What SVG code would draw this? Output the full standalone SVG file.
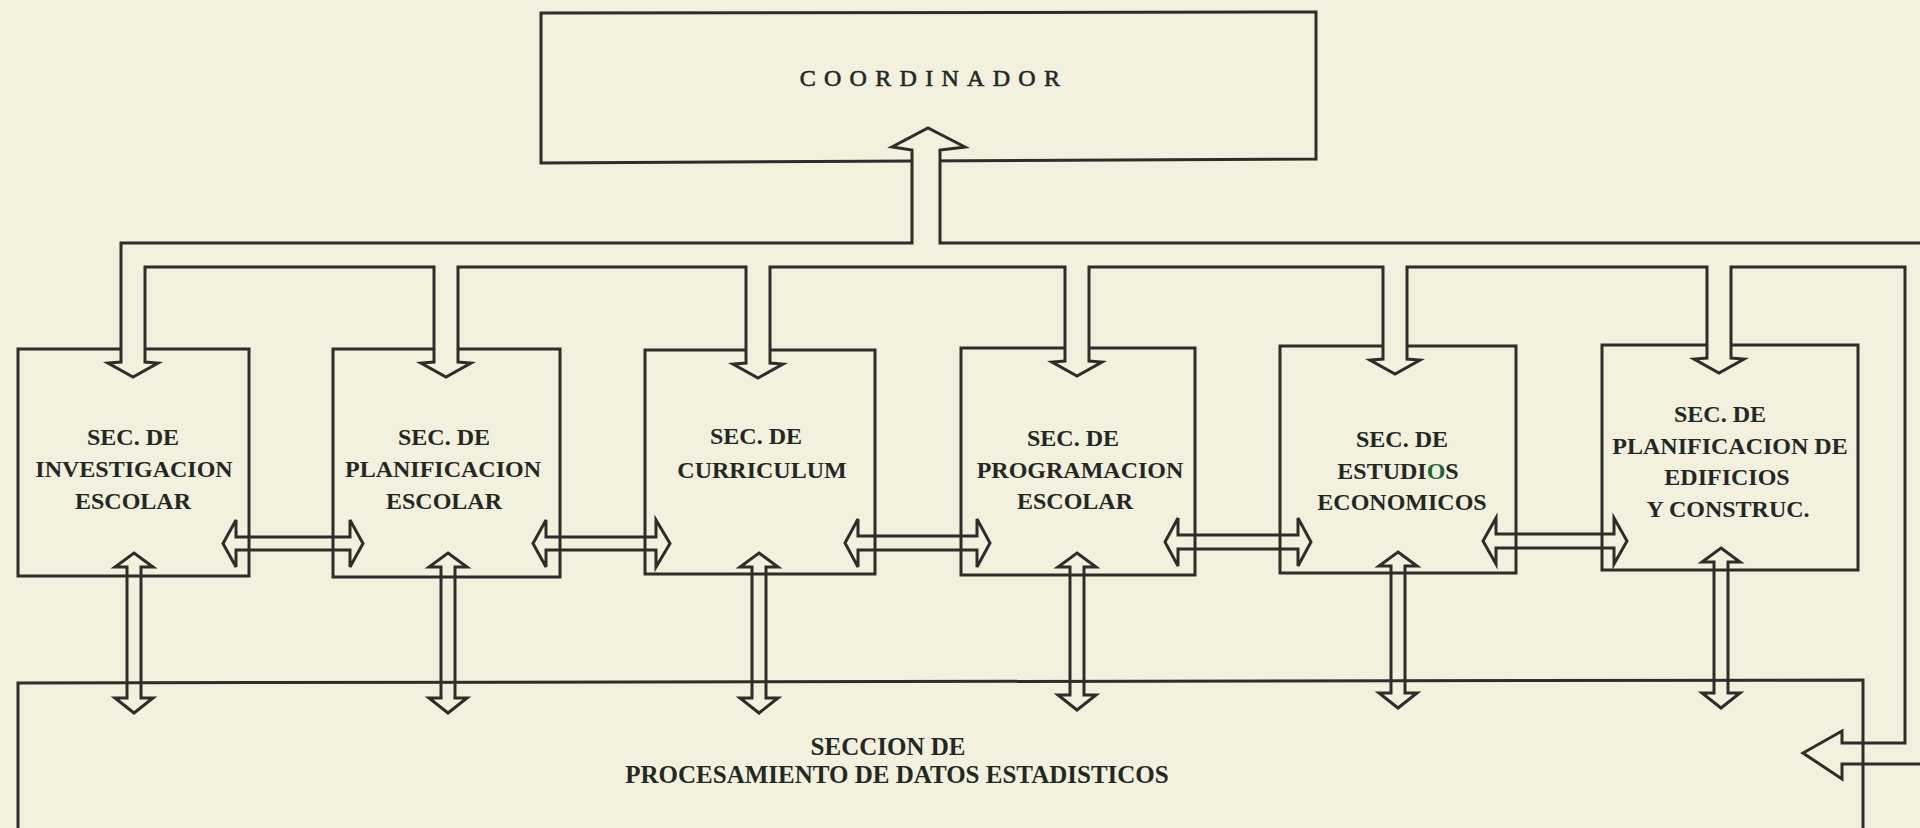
<svg xmlns="http://www.w3.org/2000/svg" width="1920" height="828" viewBox="0 0 1920 828">
<style>
.bg{fill:#f3f1de}
.box{fill:none;stroke:#2d2d2a;stroke-width:3;stroke-linejoin:miter}
.pipe{fill:#f3f1de;stroke:#2d2d2a;stroke-width:3;stroke-linejoin:miter}
.dbl{fill:none;stroke:#2d2d2a;stroke-width:3;stroke-linejoin:miter}
.lbl{font-family:"Liberation Serif","Times New Roman",serif;font-weight:bold;font-size:24px;fill:#232825;text-anchor:middle}
.big{font-size:25px}
.coord{font-family:"Liberation Serif","Times New Roman",serif;font-size:24px;fill:#232825;stroke:#232825;stroke-width:0.6;letter-spacing:8.3px;text-anchor:middle}
</style>
<rect class="bg" x="0" y="0" width="1920" height="828"/>

<g id="coordinador">
  <path class="box" d="M541 13 L1316 12 L1316 159 L541 163 Z"/>
  <text class="coord" x="934" y="86">COORDINADOR</text>
</g>

<g id="sec-investigacion-escolar">
  <rect class="box" x="18" y="349" width="231" height="227"/>
  <text class="lbl" x="133" y="445">SEC. DE</text>
  <text class="lbl" x="134" y="477">INVESTIGACION</text>
  <text class="lbl" x="133" y="509">ESCOLAR</text>
</g>

<g id="sec-planificacion-escolar">
  <rect class="box" x="333" y="349" width="227" height="228"/>
  <text class="lbl" x="444" y="445">SEC. DE</text>
  <text class="lbl" x="443" y="477">PLANIFICACION</text>
  <text class="lbl" x="444" y="509">ESCOLAR</text>
</g>

<g id="sec-curriculum">
  <rect class="box" x="645" y="350" width="230" height="224"/>
  <text class="lbl" x="756" y="444">SEC. DE</text>
  <text class="lbl" x="762" y="478">CURRICULUM</text>
</g>

<g id="sec-programacion-escolar">
  <rect class="box" x="961" y="348" width="234" height="227"/>
  <text class="lbl" x="1073" y="446">SEC. DE</text>
  <text class="lbl" x="1080" y="478">PROGRAMACION</text>
  <text class="lbl" x="1075" y="509">ESCOLAR</text>
</g>

<g id="sec-estudios-economicos">
  <rect class="box" x="1280" y="346" width="236" height="227"/>
  <text class="lbl" x="1402" y="447">SEC. DE</text>
  <text class="lbl" x="1398" y="479">ESTUDI<tspan fill="#17693a">O</tspan>S</text>
  <text class="lbl" x="1402" y="510">ECONOMICOS</text>
</g>

<g id="sec-planificacion-edificios">
  <rect class="box" x="1602" y="345" width="256" height="225"/>
  <text class="lbl" x="1720" y="422">SEC. DE</text>
  <text class="lbl" x="1730" y="454">PLANIFICACION DE</text>
  <text class="lbl" x="1727" y="485">EDIFICIOS</text>
  <text class="lbl" x="1728" y="517">Y CONSTRUC.</text>
</g>

<g id="connectors">
  <path class="pipe" d="M121 362 L121 243 L912 243 L912 150 L892 147 L928 128 L965 147 L940 150 L940 243 L1940 243 L1940 764 L1842 764 L1842 779 L1803 753 L1842 731 L1842 743 L1905 743 L1905 267
  L1731 267 L1731 358 L1744 359 L1719 373 L1694 359 L1707 358 L1707 267
  L1407 267 L1407 359 L1420 360 L1395 374 L1370 360 L1383 359 L1383 267
  L1089 267 L1089 361 L1102 362 L1077 376 L1052 362 L1065 361 L1065 267
  L770 267 L770 363 L783 364 L758 378 L733 364 L746 363 L746 267
  L458 267 L458 362 L471 363 L446 377 L421 363 L434 362 L434 267
  L145 267 L145 362 L158 363 L133 377 L108 363 Z"/>

  <path class="dbl" d="M223 543.5 L236 520 L236 537 L350 537 L350 520 L363 543.5 L350 567 L350 550 L236 550 L236 567 Z"/>
  <path class="dbl" d="M533 543.5 L546 520 L546 537 L656 537 L656 520 L670 543.5 L656 567 L656 550 L546 550 L546 567 Z"/>
  <path class="dbl" d="M845 543 L858 519 L858 536 L977 536 L977 519 L990 543 L977 567 L977 550 L858 550 L858 567 Z"/>
  <path class="dbl" d="M1165 542 L1178 518 L1178 535 L1298 535 L1298 518 L1311 542 L1298 566 L1298 549 L1178 549 L1178 566 Z"/>
  <path class="dbl" d="M1483 541 L1496 518 L1496 534 L1614 534 L1614 518 L1627 541 L1614 564 L1614 548 L1496 548 L1496 564 Z"/>

  <path class="dbl" d="M134 553 L153 567 L141 567 L141 698 L153 698 L134 713 L115 698 L127 698 L127 567 L115 567 Z"/>
  <path class="dbl" d="M448 553 L467 567 L455 567 L455 698 L467 698 L448 713 L429 698 L441 698 L441 567 L429 567 Z"/>
  <path class="dbl" d="M759 553 L778 567 L766 567 L766 698 L778 698 L759 713 L740 698 L752 698 L752 567 L740 567 Z"/>
  <path class="dbl" d="M1077 553 L1096 567 L1084 567 L1084 695 L1096 695 L1077 710 L1058 695 L1070 695 L1070 567 L1058 567 Z"/>
  <path class="dbl" d="M1398 552 L1417 566 L1405 566 L1405 693 L1417 693 L1398 708 L1379 693 L1391 693 L1391 566 L1379 566 Z"/>
  <path class="dbl" d="M1721 548 L1740 562 L1728 562 L1728 693 L1740 693 L1721 708 L1702 693 L1714 693 L1714 562 L1702 562 Z"/>
</g>

<g id="seccion-procesamiento">
  <path class="box" d="M18 840 L18 683 L1863 680 L1863 840"/>
  <text class="lbl big" x="888" y="755">SECCION DE</text>
  <text class="lbl big" x="897" y="783">PROCESAMIENTO DE DATOS ESTADISTICOS</text>
</g>
</svg>
